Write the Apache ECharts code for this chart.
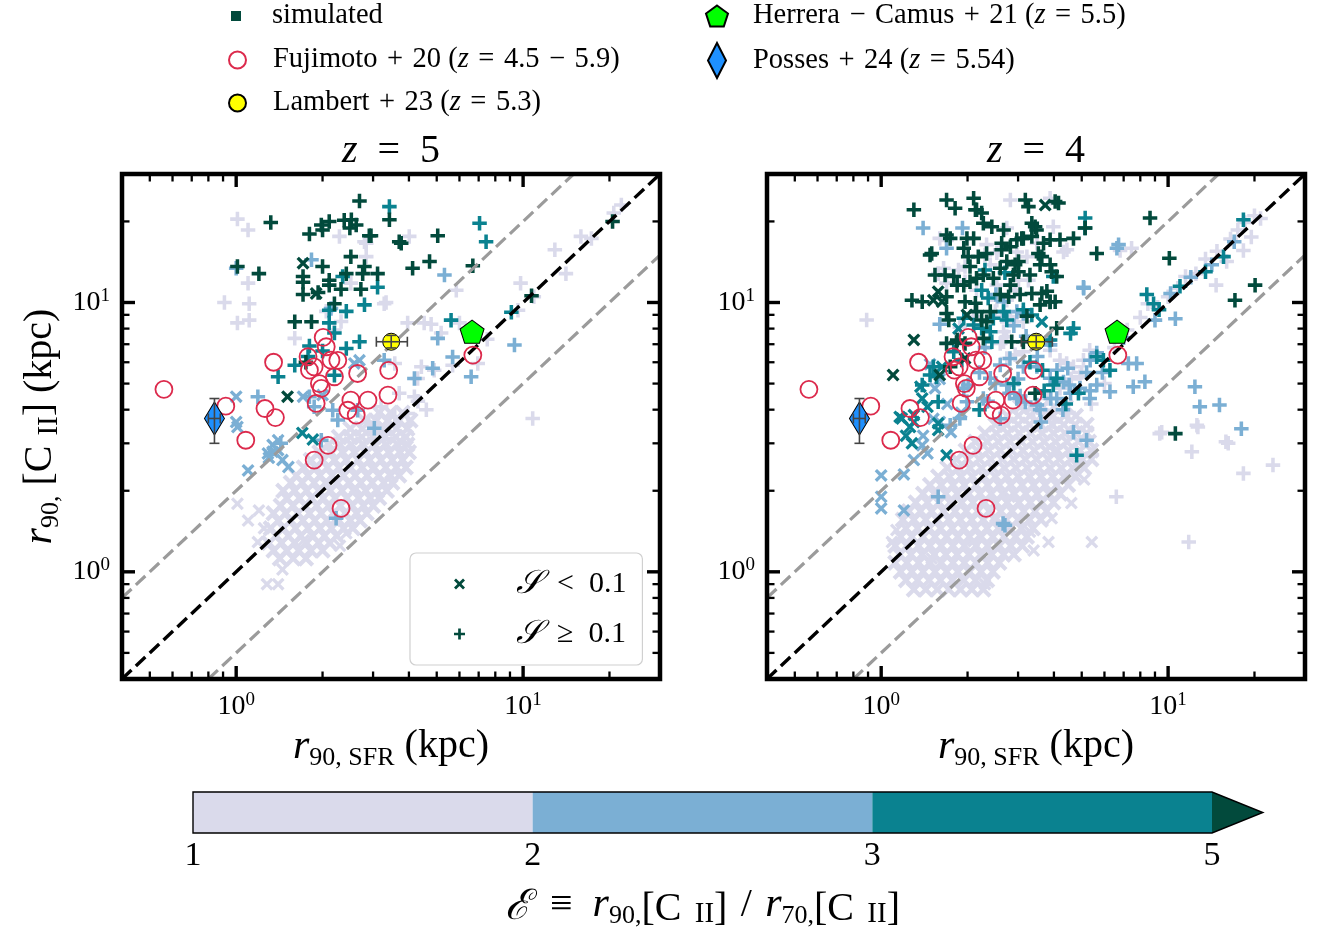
<!DOCTYPE html>
<html><head><meta charset="utf-8">
<script src="https://cdn.jsdelivr.net/npm/echarts@6/dist/echarts.min.js"></script>
<style>html,body{margin:0;padding:0;background:#fff}#c{width:1320px;height:937px}</style>
</head><body><div id="c"></div><script>
// ---------------- DATA ----------------
// colour classes of E = r90/r70 : [1,2), [2,3), [3,5), >=5
const cbBounds = [1, 2, 3, 5];
const cbColors = ['#dadaeb', '#7bafd4', '#0a8290', '#024a3c'];

// dense E<2, S<0.1 cloud read row by row: [y, [x values along that row]]
const z5_cloud_rows = [
 [1.12,[1.42,1.58,1.75]],[1.2,[1.35,1.5,1.65,1.82,2.0]],[1.28,[1.3,1.44,1.6,1.76,1.94,2.12]],[1.36,[1.38,1.52,1.68,1.85,2.03,2.24]],
 [1.45,[1.32,1.46,1.61,1.78,1.96,2.15,2.37,2.55]],[1.55,[1.4,1.55,1.71,1.88,2.07,2.28,2.5,2.7]],
 [1.65,[1.35,1.49,1.64,1.8,1.98,2.18,2.4,2.63,2.85]],[1.76,[1.43,1.58,1.74,1.91,2.1,2.31,2.54,2.78,3.0]],
 [1.88,[1.5,1.66,1.83,2.01,2.21,2.43,2.67,2.93,3.15]],[2.0,[1.46,1.6,1.76,1.94,2.13,2.34,2.57,2.83,3.1,3.35]],
 [2.14,[1.55,1.7,1.87,2.05,2.25,2.47,2.72,2.98,3.27,3.5]],[2.28,[1.62,1.78,1.96,2.16,2.37,2.6,2.86,3.14,3.45,3.7]],
 [2.44,[1.72,1.89,2.08,2.28,2.5,2.75,3.02,3.32,3.62,3.9]],[2.6,[1.82,2.0,2.2,2.42,2.66,2.92,3.2,3.5,3.8]],
 [2.78,[1.95,2.14,2.35,2.58,2.83,3.1,3.4,3.72,4.0]],[2.97,[2.1,2.3,2.52,2.77,3.04,3.33,3.65,3.95]],
 [3.17,[2.28,2.5,2.74,3.0,3.3,3.6,3.9]],[3.4,[2.5,2.75,3.02,3.3,3.62,3.95]],[3.65,[2.8,3.08,3.38,3.7,4.05]],[3.9,[3.15,3.45,3.8]]
];
const z4_cloud_rows = [
 [0.86,[1.3,1.43,1.57,1.72,1.89,2.07,2.27]],[0.93,[1.22,1.34,1.47,1.61,1.77,1.94,2.13,2.34]],
 [1.0,[1.17,1.28,1.4,1.54,1.69,1.85,2.03,2.23,2.45]],[1.08,[1.12,1.23,1.35,1.48,1.62,1.78,1.95,2.14,2.35,2.58]],
 [1.16,[1.16,1.27,1.39,1.53,1.68,1.84,2.02,2.22,2.43,2.67,2.9]],[1.25,[1.12,1.23,1.35,1.48,1.62,1.78,1.95,2.14,2.35,2.58,2.83,3.1]],
 [1.35,[1.17,1.28,1.4,1.54,1.69,1.85,2.03,2.23,2.45,2.68,2.94,3.22]],[1.45,[1.22,1.34,1.47,1.61,1.77,1.94,2.13,2.34,2.56,2.81,3.08,3.38]],
 [1.56,[1.19,1.3,1.43,1.57,1.72,1.89,2.07,2.27,2.49,2.73,3.0,3.29,3.6]],[1.68,[1.25,1.37,1.5,1.65,1.81,1.98,2.17,2.38,2.61,2.86,3.14,3.44,3.77]],
 [1.81,[1.32,1.45,1.59,1.74,1.91,2.09,2.29,2.51,2.75,3.02,3.31,3.63,3.98]],[1.95,[1.4,1.53,1.68,1.84,2.02,2.21,2.42,2.65,2.91,3.19,3.5,3.84,4.2]],
 [2.1,[1.48,1.62,1.78,1.95,2.14,2.35,2.58,2.83,3.1,3.4,3.73,4.09,4.48]],[2.26,[1.58,1.73,1.9,2.08,2.28,2.5,2.74,3.0,3.29,3.61,3.96,4.34,4.75]],
 [2.43,[1.7,1.86,2.04,2.24,2.45,2.69,2.95,3.23,3.54,3.88,4.25,4.66,5.1]],[2.62,[1.83,2.0,2.2,2.41,2.64,2.9,3.18,3.48,3.82,4.18,4.58,5.02,5.4]],
 [2.82,[1.97,2.16,2.37,2.6,2.85,3.12,3.42,3.75,4.11,4.5,4.93,5.4]],[3.04,[2.13,2.34,2.56,2.81,3.08,3.37,3.7,4.05,4.44,4.87,5.3]],
 [3.27,[2.3,2.52,2.76,3.03,3.32,3.64,3.99,4.37,4.79,5.2]],[3.52,[2.5,2.74,3.0,3.29,3.6,3.95,4.33,4.74,5.2]],
 [3.8,[2.75,3.01,3.3,3.62,3.97,4.35,4.77]],[4.1,[3.05,3.34,3.66,4.01,4.4]]
];

// z = 5 (left panel) other simulated galaxies
const z5_lav_cross = [[1.01,1.79],[1.19,1.29],[1.2,1.69],[1.4,0.9],[2.42,1.39],[1.1,1.55],[1.25,1.45],[1.28,0.9],[1.45,1.02],[2.3,1.25],
 [1.72,1.31],[2.6,2.05],[3.0,2.4],[2.2,1.55],[1.9,2.45]];
const z5_lav_plus = [[1.01,20.4],[1.1,18.6],[1.1,11.8],[1.11,9.9],[0.91,10.0],[1.01,8.4],[1.11,8.6],[2.29,17.6],[2.84,16.6],[2.84,14.8],
 [2.51,11.8],[3.33,10],[2.06,9.27],[2.2,7.9],[2.32,8.5],[1.6,7.36],[4.01,17.6],[3.28,9.9],[3.96,8.4],[4.78,8.3],[5.85,11.1],[12.9,15.7],
 [14.1,12.8],[15.9,17.6],[17.3,17.3],[20.7,21.5],[22,23],[9.8,11.8],[10.9,10.5],[9.6,9.36],[10.8,3.71],[5.18,7.7],[3.57,5.94],[4.29,5.22],
 [4.9,5.6],[4.18,4.47],[3.96,3.87],[3.57,3.76],[3.28,3.12],[3.85,3.0],[7.5,7.3],[2.8,16.8],[6.0,8.4],[4.52,8.4],[4.42,5.77],[5.68,5.85],[6.95,5.94],
 [4.3,4.3],[4.6,4.0],[3.7,4.6],[3.2,4.1],[2.9,3.6]];
const z5_blue_cross = [[1.0,4.47],[1.0,3.6],[1.4,3.08],[1.34,2.96],[1.71,4.47],[2.69,6.1],[2.58,5.94],[1.01,3.45],[1.34,2.79],[1.4,2.83],
 [1.29,2.75],[1.1,2.38],[2.0,4.53],[1.3,2.65],[1.45,2.6],[1.52,2.45]];
const z5_blue_plus = [[1.0,13.4],[1.83,14.4],[2.14,9.5],[1.19,4.47],[1.8,4.47],[1.87,4.1],[3.28,6.1],[5.32,12.65],[5.04,7.36],[5.68,6.28],
 [6.59,5.3],[9.33,6.95],[4.84,5.7],[4.18,5.22],[2.17,3.98],[2.26,3.66],[2.65,3.98],[1.98,3.08],[1.43,3.0],[3.03,3.41],[2.23,1.58]];
const z5_teal_cross = [[1.7,3.28],[1.85,3.1]];
const z5_teal_plus = [[3.42,22.7],[2.35,12.5],[3.11,11.4],[2.8,9.8],[2.11,9.36],[2.42,9.27],[2.11,8.4],[2.2,7.7],[2.69,7.15],[2.42,6.75],
 [1.6,5.85],[1.78,6.3],[1.4,5.3],[2.2,5.37],[7.05,19.7],[7.43,16.8],[5.61,8.6],[9.1,9.2],[1.8,6.9],[2.0,6.6]];
const z5_dark_cross = [[1.71,14.0],[1.51,4.47],[1.9,10.8]];
const z5_dark_plus = [[1.32,19.8],[2.69,23.8],[1.8,17.97],[2.0,18.6],[1.98,19.4],[2.11,20.0],[2.38,20.2],[2.52,20.3],[2.62,19.4],[2.49,18.9],
 [2.91,17.7],[3.7,16.8],[2.51,14.8],[2.0,13.6],[1.71,12.5],[1.71,11.9],[2.11,12.1],[2.42,12.8],[2.76,12.8],[3.11,12.8],[2.8,13.6],[1.71,10.7],
 [1.93,10.9],[2.11,11.6],[2.32,11.2],[2.72,11.2],[2.2,9.9],[1.6,8.48],[1.83,8.48],[1.2,12.8],[1.01,13.6],[1.75,6.0],[3.42,20.3],[2.95,17.7],
 [3.76,16.6],[5.04,17.7],[4.12,13.4],[4.72,14.2],[6.68,13.7],[20.5,19.97],[10.7,10.6]];

// z = 4 (right panel) other simulated galaxies
const z4_lav_cross = [[3.3,1.41],[3.83,1.29],[3.93,1.58],[5.42,1.29],[2.3,0.9],[1.09,1.29],[1.13,1.43],[3.4,1.2],[4.6,1.8],[5.1,2.2],
 [1.5,1.12],[2.5,1.6],[3.3,2.25],[2.1,1.3],[4.0,2.8],[2.8,1.9]];
const z4_lav_plus = [[0.89,8.61],[2.82,24.0],[3.88,24.4],[2.74,18.9],[3.49,16.6],[4.44,15.7],[1.6,17.3],[2.33,16.4],[2.6,15.7],[2.97,15.4],
 [3.22,14.8],[1.65,13.4],[1.96,13.6],[2.4,13.8],[2.53,11.6],[3.01,12.1],[2.5,9.25],[2.53,10.2],[2.63,8.87],[2.82,8.74],[2.97,8.87],[3.13,8.48],
 [2.67,7.79],[2.67,7.15],[2.93,6.4],[3.13,6.56],[2.74,6.2],[1.69,17.0],[1.58,12.8],[1.86,13.2],[1.69,11.8],[1.96,11.95],[2.15,11.1],[2.3,15.0],
 [2.53,15.3],[2.81,11.6],[2.74,10.2],[2.93,11.1],[4.32,15.4],[3.98,19.1],[3.26,12.1],[2.7,8.87],[2.74,7.46],[2.6,7.05],[1.88,8.1],[2.1,8.87],
 [7.46,15.9],[6.8,15.6],[14.7,11.6],[18.3,15.6],[12.6,3.5],[9.5,3.3],[15.9,3.04],[9.35,3.26],[12.7,3.45],[12.1,2.79],[16.2,3.0],[18.3,2.32],
 [23.2,2.49],[6.6,1.9],[11.8,1.29],[3.88,6.65],[4.2,6.1],[4.43,5.94],[4.68,5.77],[4.93,5.3],[5.07,6.1],[5.33,6.65],
 [6.5,6.8],[7.2,7.9],[8.0,8.8],[8.5,9.9],[9.2,9.6],[10,10.5],[10.8,11.3],[11.5,12.5],[12.5,12.8],[13.5,14.5],[14.8,15.5],[16.5,17.2],
 [17.5,18.6],[18.5,19.8],[20,21],[21,20.5],[19.5,17.5],[16,14.2],[3.8,4.4],[4.2,4.8],[4.6,5.2],[5.0,5.5],[3.4,4.0],[4.0,3.6],[4.5,3.9],[5.4,4.2],[6.0,5.0]];
const z4_blue_cross = [[1.48,5.9],[1.54,4.8],[1.6,5.2],[1.52,3.7],[1.6,3.6],[1.0,2.28],[1.0,1.9],[1.0,1.72],[1.2,1.69],[1.39,2.95],[1.4,3.2],[1.7,4.2],
 [1.3,2.6],[1.45,2.75],[1.75,3.3],[1.9,3.9],[1.2,2.3]];
const z4_blue_plus = [[1.4,18.9],[1.92,18.9],[1.69,15.9],[6.63,15.9],[5.08,11.3],[2.51,10.7],[2.67,10.07],[2.97,9.25],[3.13,9.1],[3.83,7.26],
 [3.88,6.96],[1.94,4.8],[2.01,4.94],[3.05,4.5],[3.18,4.27],[3.58,4.0],[4.47,5.7],[4.52,4.94],[4.57,4.6],[5.2,5.5],[5.35,4.7],[5.64,6.5],
 [5.35,6.1],[5.9,5.5],[5.07,11.4],[6.72,16.4],[7.56,4.87],[8.3,5.08],[12.4,4.87],[12.9,4.1],[15.1,4.16],[18.0,3.4],[10.6,8.7],[7.27,5.94],
 [7.77,5.94],[4.68,3.3],[5.2,3.08],[2.66,1.51],[1.58,1.9],[2.7,1.49],[2.2,5.5],[2.5,5.0],[2.8,4.6],[3.0,5.2],[2.35,4.3],[2.6,3.7],[3.6,3.6],
 [3.9,4.4],[4.3,4.0],[4.1,5.6],[3.5,6.3],[3.2,7.5],[2.9,8.2],[2.3,6.8],[1.6,8.3],[10.2,10.8],[12,12.4],[14.2,13.8],[7.0,7.4],[9.0,8.6],[17,16.8],
 [2.6,5.86],[2.81,6.2],[3.13,5.78],[3.49,5.78],[3.88,5.23],[4.32,5.07],[4.93,4.8],[5.64,4.94],[6.27,4.66],[5.33,4.4],[4.09,4.4],[3.49,4.16],
 [2.97,4.4],[2.74,4.94],[2.4,5.23],[2.27,4.4],[1.99,4.28],[1.88,3.71],[1.74,3.5]];
const z4_teal_cross = [[3.63,8.48],[1.86,8.0],[1.63,5.77],[1.39,4.4],[1.18,3.71],[1.3,3.6],[1.16,3.76],[1.3,3.82],[1.58,3.56],[1.37,4.87],
 [1.26,3.45],[1.28,3.0],[1.58,3.36],[1.69,2.71],[1.45,4.1],[1.22,3.2]];
const z4_teal_plus = [[5.14,20.6],[2.3,13.2],[2.7,12.9],[2.24,11.1],[2.36,10.4],[2.67,9.25],[2.74,8.61],[2.46,8.74],[1.94,8.74],[2.1,8.25],
 [2.24,8.02],[2.4,7.79],[2.43,7.15],[3.88,7.26],[3.98,12.5],[3.13,9.4],[3.35,8.99],[4.68,8.02],[4.57,7.68],[3.98,4.94],[4.09,5.23],[1.79,6.56],
 [1.91,6.11],[1.39,4.94],[1.48,5.38],[1.52,5.77],[1.56,5.3],[1.58,4.28],[8.43,10.7],[8.9,9.9],[9.3,9.4],[18.3,20.3],[5.13,18.9],[5.64,6.29],
 [5.95,6.1],[6.27,5.6],[4.87,4.6],[15.6,14.8],[4.8,2.71],[13.5,13.0],[11,11.5],[3.65,5.6],[3.3,6.0],[2.9,5.0],[3.7,4.7],[2.2,4.0],[4.4,4.2]];
const z4_dark_cross = [[3.73,23.0],[1.58,10.97],[1.63,10.07],[1.99,8.99],[1.3,7.26],[1.1,5.38],[1.6,5.38],[1.96,6.2],[1.52,10.2]];
const z4_dark_plus = [[1.3,22.1],[1.69,24.0],[1.81,22.4],[2.1,24.4],[2.13,22.1],[2.24,21.5],[2.27,19.7],[2.43,19.1],[2.67,18.6],[3.18,24.0],
 [3.26,22.7],[3.35,19.7],[3.44,19.1],[3.13,17.3],[2.97,17.1],[2.63,16.6],[2.63,15.7],[2.82,16.1],[3.68,16.6],[3.88,17.1],[4.15,23.4],[4.2,17.1],
 [4.68,17.3],[5.14,18.9],[5.64,15.2],[1.69,17.8],[1.74,17.3],[1.99,17.3],[2.1,17.3],[1.94,15.9],[2.01,14.8],[2.04,13.6],[2.18,14.8],[2.33,15.2],
 [1.5,15.2],[1.54,12.65],[1.67,12.65],[1.79,12.5],[1.84,11.6],[1.94,11.6],[2.04,11.95],[2.15,12.3],[2.27,12.65],[2.46,12.3],[2.6,13.4],
 [2.74,14.2],[2.93,13.8],[3.01,13.0],[2.89,12.65],[2.82,11.6],[3.01,14.2],[3.53,15.2],[3.63,14.8],[3.58,13.8],[3.88,13.8],[3.3,12.65],
 [3.35,10.8],[3.63,10.8],[3.88,10.07],[4.04,10.07],[1.28,10.2],[1.39,10.07],[1.69,10.5],[1.69,9.1],[1.72,8.61],[1.96,10.07],[2.13,9.93],
 [2.15,9.25],[2.24,8.61],[2.33,8.48],[2.4,9.25],[2.6,10.7],[2.78,10.5],[3.05,10.7],[4.09,8.02],[1.69,7.05],[1.84,7.26],[1.96,7.05],[2.27,7.36],
 [2.85,7.15],[3.13,7.15],[1.74,5.77],[3.44,4.6],[1.48,15.0],[1.83,7.1],[8.65,20.6],[10.1,14.6],[20.1,11.6],[17.1,10.2],[10.6,3.26],[2.15,22.1],
 [4.04,23.7],[3.09,17.3],[3.35,17.6],[3.48,18.6],[3.93,13.0],[4.09,12.5],[3.78,11.0],[3.88,10.05],[3.58,9.8],[3.22,8.9]];

// observations (same in both panels)
const fujimoto = [[0.56,4.76],[0.92,4.12],[1.08,3.08],[1.26,4.04],[1.37,3.74],[1.35,6.0],[1.78,6.29],[2.01,7.42],[2.06,6.85],[2.14,6.11],
 [2.26,6.1],[1.8,5.61],[1.87,5.77],[1.95,5.0],[1.98,4.8],[1.9,4.22],[2.2,5.3],[2.65,5.45],[2.51,4.34],[2.88,4.34],[2.45,3.98],[2.62,3.82],
 [3.38,4.53],[3.4,5.6],[2.09,2.95],[1.87,2.6],[2.32,1.72],[6.68,6.38]];
const lambert = [[3.47, 7.15]];
const lambertErr = [[3.47, 7.15, 3.08, 3.95, 6.78, 7.55]];   // x, y, xlo, xhi, ylo, yhi
const herrera = [[6.64, 7.79]];
const posses = [[0.84, 3.71]];
const possesErr = [[0.84, 3.71, 0.8, 0.88, 3.0, 4.4]];

// axes
const axisRange = [0.4, 30];
const tickMajor = [1, 10];
const tickMinor = [0.5, 0.6, 0.7, 0.8, 0.9, 2, 3, 4, 5, 6, 7, 8, 9, 20];
const oneToOne = [[0.4, 0.4], [30, 30]];
const twiceLine = [[0.4, 0.8], [15, 30]];
const halfLine = [[0.8, 0.4], [30, 15]];
const panelTitles = ['5', '4'];

// ---------------- STYLE / OPTION ----------------
const FONT = "'Liberation Serif','DejaVu Serif',serif";
const PLUS = 'path://M3.4,0H5.6V3.4H9V5.6H5.6V9H3.4V5.6H0V3.4H3.4Z';
const CROSS = 'path://M0,1.8L1.8,0L5,3.2L8.2,0L10,1.8L6.8,5L10,8.2L8.2,10L5,6.8L1.8,10L0,8.2L3.2,5Z';
const PENTA = 'path://M50,0L100,36.3L80.9,95.1L19.1,95.1L0,36.3Z';
const FUJI = '#dc2a4c';
const SP = '\u2004', EN = '\u2002';

const rowsToPoints = rows => rows.reduce((acc, r) => acc.concat(r[1].map(x => [x, r[0]])), []);
const z5_cloud = rowsToPoints(z5_cloud_rows);
const z4_cloud = rowsToPoints(z4_cloud_rows);

const chart = echarts.init(document.getElementById('c'), null, {renderer: 'canvas'});

const tickRich = {
  b: {fontFamily: FONT, fontSize: 28, lineHeight: 32, color: '#000'},
  s: {fontFamily: FONT, fontSize: 19, lineHeight: 18, verticalAlign: 'top', color: '#000'}
};
function powFmt(v) {
  const l = Math.log10(v);
  if (Math.abs(l - Math.round(l)) > 1e-6) return '';
  return '{b|10}{s|' + Math.round(l) + '}';
}
const nameRich = {
  r: {fontFamily: FONT, fontStyle: 'italic', fontSize: 42, lineHeight: 48, color: '#000'},
  n: {fontFamily: FONT, fontSize: 40, lineHeight: 48, color: '#000'},
  sub: {fontFamily: FONT, fontSize: 26, lineHeight: 24, verticalAlign: 'bottom', color: '#000'},
  sc: {fontFamily: FONT, fontSize: 29, lineHeight: 42, verticalAlign: 'bottom', color: '#000'},
  e: {fontFamily: FONT, fontStyle: 'italic', fontSize: 42, lineHeight: 44, verticalAlign: 'bottom', color: '#000'},
  cl: {fontFamily: FONT, fontSize: 40, lineHeight: 26, verticalAlign: 'bottom', color: '#000'},
  scl: {fontFamily: FONT, fontSize: 29, lineHeight: 14, verticalAlign: 'bottom', color: '#000'}
};

function logAxis(gi, name, nameGap) {
  return {
    type: 'log', logBase: 10, gridIndex: gi, min: axisRange[0], max: axisRange[1],
    axisLine: {show: false}, axisTick: {show: false}, splitLine: {show: false}, minorTick: {show: false},
    axisLabel: {formatter: powFmt, rich: tickRich, margin: 12, color: '#000', showMinLabel: true, showMaxLabel: true},
    name: name, nameLocation: 'middle', nameGap: nameGap,
    nameTextStyle: {rich: nameRich, color: '#000'}
  };
}

function sim(gi, data, ci, cross, size) {
  return {type: 'scatter', xAxisIndex: gi, yAxisIndex: gi, data: data, symbol: cross ? CROSS : PLUS,
    symbolSize: size || (cross ? 13 : 14.5), itemStyle: {color: cbColors[ci], opacity: 1},
    silent: true, z: 2, animation: false};
}
function refLine(gi, data, color, w) {
  return {type: 'line', xAxisIndex: gi, yAxisIndex: gi, data: data, symbol: 'none', silent: true, z: 5,
    lineStyle: {color: color, width: w, type: [13, 6]}, animation: false};
}
function ticks(gi) {
  return {type: 'custom', xAxisIndex: gi, yAxisIndex: gi, silent: true, z: 10, animation: false,
    data: tickMajor.map(v => [v, v, 1]).concat(tickMinor.map(v => [v, v, 0])),
    encode: {x: 0, y: 1},
    renderItem: function (params, api) {
      const v = api.value(0), major = api.value(2) === 1;
      const cs = params.coordSys;
      const p = api.coord([v, v]);
      const L = major ? 13 : 7.5, w = major ? 3.4 : 2.3;
      const st = {stroke: '#000', lineWidth: w};
      const x0 = cs.x, x1 = cs.x + cs.width, y0 = cs.y, y1 = cs.y + cs.height;
      return {type: 'group', children: [
        {type: 'line', shape: {x1: p[0], y1: y1, x2: p[0], y2: y1 - L}, style: st},
        {type: 'line', shape: {x1: p[0], y1: y0, x2: p[0], y2: y0 + L}, style: st},
        {type: 'line', shape: {x1: x0, y1: p[1], x2: x0 + L, y2: p[1]}, style: st},
        {type: 'line', shape: {x1: x1, y1: p[1], x2: x1 - L, y2: p[1]}, style: st}
      ]};
    }};
}
function frame(gi) {
  return {type: 'custom', xAxisIndex: gi, yAxisIndex: gi, silent: true, z: 11, animation: false,
    data: [[1, 1]], encode: {x: 0, y: 1},
    renderItem: function (params) {
      const cs = params.coordSys;
      return {type: 'rect', shape: {x: cs.x, y: cs.y, width: cs.width, height: cs.height},
        style: {fill: 'none', stroke: '#000', lineWidth: 4.5}};
    }};
}
function errBars(gi, data) {
  return {type: 'custom', xAxisIndex: gi, yAxisIndex: gi, silent: true, z: 8, animation: false,
    data: data, encode: {x: 0, y: 1},
    renderItem: function (params, api) {
      const x = api.value(0), y = api.value(1);
      const pl = api.coord([api.value(2), y]), pr = api.coord([api.value(3), y]);
      const pb = api.coord([x, api.value(4)]), pt = api.coord([x, api.value(5)]);
      const c = 5, st = {stroke: '#444', lineWidth: 1.6};
      const ln = (a, b, cc, d) => ({type: 'line', shape: {x1: a, y1: b, x2: cc, y2: d}, style: st});
      return {type: 'group', children: [
        ln(pl[0], pl[1], pr[0], pr[1]), ln(pl[0], pl[1] - c, pl[0], pl[1] + c), ln(pr[0], pr[1] - c, pr[0], pr[1] + c),
        ln(pb[0], pb[1], pt[0], pt[1]), ln(pb[0] - c, pb[1], pb[0] + c, pb[1]), ln(pt[0] - c, pt[1], pt[0] + c, pt[1])
      ]};
    }};
}
function obs(gi) {
  return [
    {type: 'scatter', name: 'Fujimoto', xAxisIndex: gi, yAxisIndex: gi, data: fujimoto, symbol: 'circle', symbolSize: 17,
      itemStyle: {color: 'rgba(255,255,255,0)', borderColor: FUJI, borderWidth: 1.8, opacity: 1}, z: 6, silent: true, animation: false},
    {type: 'scatter', name: 'Lambert', xAxisIndex: gi, yAxisIndex: gi, data: lambert, symbol: 'circle', symbolSize: 17,
      itemStyle: {color: '#ffff00', borderColor: '#000', borderWidth: 1, opacity: 1}, z: 7, silent: true, animation: false},
    {type: 'scatter', name: 'Herrera', xAxisIndex: gi, yAxisIndex: gi, data: herrera, symbol: PENTA, symbolSize: [24, 23],
      itemStyle: {color: '#00ff00', borderColor: '#000', borderWidth: 1, opacity: 1}, z: 7, silent: true, animation: false},
    {type: 'scatter', name: 'Posses', xAxisIndex: gi, yAxisIndex: gi, data: posses, symbol: 'diamond', symbolSize: [20, 33],
      itemStyle: {color: '#1e90ff', borderColor: '#000', borderWidth: 1, opacity: 1}, z: 7, silent: true, animation: false},
    errBars(gi, lambertErr), errBars(gi, possesErr)
  ];
}

const panels = [
  [z5_cloud, z5_lav_cross, z5_lav_plus, z5_blue_cross, z5_blue_plus, z5_teal_cross, z5_teal_plus, z5_dark_cross, z5_dark_plus],
  [z4_cloud, z4_lav_cross, z4_lav_plus, z4_blue_cross, z4_blue_plus, z4_teal_cross, z4_teal_plus, z4_dark_cross, z4_dark_plus]
];
const panelClass = [0, 0, 0, 1, 1, 2, 2, 3, 3];
const panelCross = [true, true, false, true, false, true, false, true, false];

const series = [];
panels.forEach((sets, gi) => {
  sets.forEach((d, k) => series.push(sim(gi, d, panelClass[k], panelCross[k], k === 0 ? 16.5 : 0)));
  series.push(refLine(gi, twiceLine, '#9b9b9b', 3.2));
  series.push(refLine(gi, halfLine, '#9b9b9b', 3.2));
  series.push(refLine(gi, oneToOne, '#000000', 3.4));
  obs(gi).forEach(s => series.push(s));
  series.push(ticks(gi));
  series.push(frame(gi));
});
// legend-only entries
series.push({type: 'scatter', name: 'simulated', xAxisIndex: 0, yAxisIndex: 0, data: [], symbol: 'rect', itemStyle: {color: cbColors[3], opacity: 1}});
series.push({type: 'scatter', name: 'S<', xAxisIndex: 0, yAxisIndex: 0, data: [], symbol: CROSS, itemStyle: {color: cbColors[3], opacity: 1}});
series.push({type: 'scatter', name: 'S>=', xAxisIndex: 0, yAxisIndex: 0, data: [], symbol: PLUS, itemStyle: {color: cbColors[3], opacity: 1}});

// colorbar
const EXT = 1.24; // extension length relative to bar height
series.push({type: 'custom', xAxisIndex: 2, yAxisIndex: 2, silent: true, z: 2, animation: false,
  data: cbColors.map((c, i) => [i, 0.5]), encode: {x: 0, y: 1},
  renderItem: function (params, api) {
    const i = api.value(0), cs = params.coordSys;
    const top = cs.y, bot = cs.y + cs.height;
    const xa = api.coord([i, 0])[0];
    if (i < cbBounds.length - 1) {
      const xb = api.coord([i + 1, 0])[0];
      return {type: 'rect', shape: {x: xa, y: top, width: xb - xa, height: bot - top}, style: {fill: cbColors[i]}};
    }
    return {type: 'polygon', shape: {points: [[xa, top], [xa + cs.height * EXT, (top + bot) / 2], [xa, bot]]}, style: {fill: cbColors[i]}};
  }});
series.push({type: 'custom', xAxisIndex: 2, yAxisIndex: 2, silent: true, z: 3, animation: false,
  data: [[0, 0.5]], encode: {x: 0, y: 1},
  renderItem: function (params) {
    const cs = params.coordSys, top = cs.y, bot = cs.y + cs.height, x0 = cs.x, x1 = cs.x + cs.width;
    return {type: 'polygon', shape: {points: [[x0, top], [x1, top], [x1 + cs.height * EXT, (top + bot) / 2], [x1, bot], [x0, bot]]},
      style: {fill: 'none', stroke: '#000', lineWidth: 1.4}};
  }});

const legendText = {
  'simulated': 'simulated',
  'Fujimoto': 'Fujimoto' + SP + '+' + SP + '20 ({i|z}' + SP + '=' + SP + '4.5' + SP + '−' + SP + '5.9)',
  'Lambert': 'Lambert' + SP + '+' + SP + '23 ({i|z}' + SP + '=' + SP + '5.3)',
  'Herrera': 'Herrera' + SP + '−' + SP + 'Camus' + SP + '+' + SP + '21 ({i|z}' + SP + '=' + SP + '5.5)',
  'Posses': 'Posses' + SP + '+' + SP + '24 ({i|z}' + SP + '=' + SP + '5.54)',
  'S<': '{s|𝒮}' + EN + '<' + EN + '0.1',
  'S>=': '{s|𝒮}' + EN + '≥' + EN + '0.1'
};
function topLegend(name, left, top, w, h, pad) {
  return {data: [name], left: left, top: top, itemWidth: w, itemHeight: h, padding: 0, selectedMode: false,
    formatter: n => legendText[n],
    textStyle: {fontFamily: FONT, fontSize: 28.5, lineHeight: 34, color: '#000', padding: [0, 0, 0, pad],
      rich: {i: {fontFamily: FONT, fontStyle: 'italic', fontSize: 28.5, lineHeight: 34, color: '#000'}}}};
}

const option = {
  animation: false,
  backgroundColor: '#fff',
  title: panelTitles.map((t, i) => ({
    text: '{i|z}' + EN + '=' + EN + t, left: i === 0 ? 391 : 1036, top: 131, textAlign: 'center', padding: 0,
    textStyle: {fontFamily: FONT, fontSize: 40, fontWeight: 'normal', color: '#000',
      rich: {i: {fontFamily: FONT, fontStyle: 'italic', fontSize: 40, color: '#000'}}}
  })),
  grid: [
    {left: 122, top: 174, width: 538, height: 505, show: false},
    {left: 767, top: 174, width: 538, height: 505, show: false},
    {left: 193, top: 792, width: 1019, height: 41, show: false}
  ],
  xAxis: [
    logAxis(0, '{r|r}{sub|90, SFR}{n| (kpc)}', 32),
    logAxis(1, '{r|r}{sub|90, SFR}{n| (kpc)}', 32),
    {type: 'value', gridIndex: 2, min: 0, max: cbBounds.length - 1, interval: 1,
      axisLine: {show: false}, axisTick: {show: false}, splitLine: {show: false},
      axisLabel: {formatter: v => String(cbBounds[v]), fontFamily: FONT, fontSize: 34, color: '#000', margin: 6},
      name: '{e|ℰ}{n|' + EN + '≡' + EN + '}{r|r}{sub|90,}{cl|[C' + SP + '}{scl|II}{cl|]}{n|' + SP + '/' + SP + '}{r|r}{sub|70,}{cl|[C' + SP + '}{scl|II}{cl|]}',
      nameLocation: 'middle', nameGap: 48, nameTextStyle: {rich: nameRich}}
  ],
  yAxis: [
    logAxis(0, '{r|r}{sub|90,}{n| [C }{sc|II}{n|] (kpc)}', 58),
    logAxis(1, '', 0),
    {type: 'value', gridIndex: 2, min: 0, max: 1, show: false}
  ],
  legend: [
    topLegend('simulated', 231, -1, 10, 10, 26),
    topLegend('Fujimoto', 228, 43, 17, 17, 22),
    topLegend('Lambert', 228, 86, 17, 17, 22),
    topLegend('Herrera', 705, -1, 22, 22, 20),
    topLegend('Posses', 707, 42, 18, 35, 22),
    {data: ['S<', 'S>='], orient: 'vertical', left: 410, top: 553, padding: [14, 16, 14, 44], itemGap: 16,
      itemWidth: 11, itemHeight: 11, selectedMode: false, backgroundColor: 'rgba(255,255,255,0.85)',
      borderColor: '#d0d0d0', borderWidth: 1.2, borderRadius: 6, formatter: n => legendText[n],
      textStyle: {fontFamily: FONT, fontSize: 30, lineHeight: 34, color: '#000', padding: [0, 0, 0, 46],
        rich: {s: {fontFamily: FONT, fontStyle: 'italic', fontSize: 33, lineHeight: 34, color: '#000'}}}}
  ],
  series: series
};
chart.setOption(option);
</script></body></html>
